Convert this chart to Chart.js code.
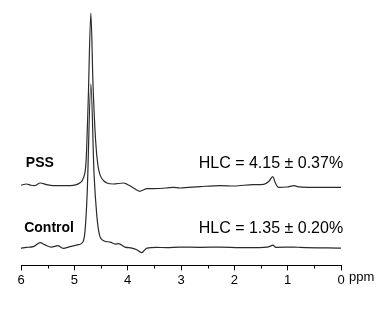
<!DOCTYPE html>
<html>
<head>
<meta charset="utf-8">
<script src="https://cdn.jsdelivr.net/npm/chart.js@4/dist/chart.umd.min.js"></script>
<style>
html,body{margin:0;padding:0;background:#fff;}
#wrap{width:383px;height:310px;position:relative;}
</style>
</head>
<body>
<div id="wrap"><canvas id="c" width="383" height="310"></canvas></div>
<script>
// Chemical shift (ppm) sample positions and intensities (arbitrary units, stacked)
const pssPpm = [6.00,5.90,5.81,5.74,5.64,5.52,5.40,5.08,4.90,4.83,4.78,4.74,4.69,4.65,4.60,4.56,4.52,4.44,4.39,4.27,4.08,4.02,3.89,3.77,3.71,3.64,3.52,3.27,3.14,3.02,2.64,2.26,2.01,1.64,1.45,1.35,1.28,1.23,1.17,1.01,0.88,0.82,0.63,0.00];
const pssVal = [80,81.3,80,79.7,82.3,80.7,79.7,79.7,82.3,87.3,104,164,252,180.7,124,100.7,90.7,84,82.3,81.3,82.3,81.3,77.3,74,75.3,76.7,76.7,77.3,78,77.3,78.7,79.7,79.3,80.7,81,84,88.7,82.3,78,78.3,79.7,78.7,78,78];

const ctlPpm = [6.00,5.90,5.77,5.64,5.56,5.43,5.31,5.21,5.08,4.92,4.84,4.80,4.76,4.69,4.63,4.58,4.53,4.45,4.33,4.23,4.17,4.05,3.92,3.83,3.74,3.64,3.46,3.27,3.02,2.64,2.26,1.89,1.45,1.33,1.28,1.22,0.88,0.76,0.00];
const ctlVal = [17.3,18,18.7,22.7,20.7,18.3,19.7,17,18.7,20.7,23.3,34,70.7,181.3,90.7,50.7,30.7,24.7,23.3,21.3,21.7,18.3,17.3,15.7,12.7,17.3,18,17.7,18.3,18,18.3,17.7,18,19,20.3,18,18.3,18,17.3];

const seriesNames = ["PSS","Control"];
const hlcLabels = ["HLC = 4.15 \u00b1 0.37%","HLC = 1.35 \u00b1 0.20%"];
const labelLevels = [102, 37];           // y positions of the text labels (intensity units)
const majorTicks = [6,5,4,3,2,1,0];
const minorTicks = [5.5,4.5,3.5,2.5,1.5,0.5];
const unitLabel = "ppm";

const toXY = (xs, ys) => xs.map((x,i)=>({x:x, y:ys[i]}));

const overlay = {
  id:'overlay',
  afterDraw(chart){
    const ctx = chart.ctx, xs = chart.scales.x, ys = chart.scales.y;
    ctx.save();
    // minor ticks
    ctx.strokeStyle = '#000'; ctx.lineWidth = 1;
    const base = Math.round(chart.chartArea.bottom) + 0.5;
    minorTicks.forEach(v=>{
      const px = Math.round(xs.getPixelForValue(v)) + 0.5;
      ctx.beginPath(); ctx.moveTo(px, base); ctx.lineTo(px, base+3); ctx.stroke();
    });
    // unit label
    ctx.fillStyle = '#000';
    ctx.font = '13px "Liberation Sans", Arial, sans-serif';
    ctx.textBaseline = 'middle'; ctx.textAlign = 'left';
    ctx.fillText(unitLabel, xs.getPixelForValue(0) + 8, base + 12);
    // series names
    ctx.font = 'bold 14px "Liberation Sans", Arial, sans-serif';
    ctx.fillText(seriesNames[0], xs.getPixelForValue(5.91), ys.getPixelForValue(labelLevels[0]));
    ctx.fillText(seriesNames[1], xs.getPixelForValue(5.94), ys.getPixelForValue(labelLevels[1]));
    // HLC labels
    ctx.font = '16px "Liberation Sans", Arial, sans-serif';
    ctx.textAlign = 'right';
    ctx.fillText(hlcLabels[0], xs.getPixelForValue(-0.04), ys.getPixelForValue(labelLevels[0]));
    ctx.fillText(hlcLabels[1], xs.getPixelForValue(-0.04), ys.getPixelForValue(labelLevels[1]));
    ctx.restore();
  }
};

new Chart(document.getElementById('c'), {
  type:'line',
  data:{
    datasets:[
      {label:seriesNames[0], data:toXY(pssPpm, pssVal), borderColor:'#2a2a2a', borderWidth:1.2, pointRadius:0, cubicInterpolationMode:'monotone', fill:false},
      {label:seriesNames[1], data:toXY(ctlPpm, ctlVal), borderColor:'#2a2a2a', borderWidth:1.2, pointRadius:0, cubicInterpolationMode:'monotone', fill:false}
    ]
  },
  options:{
    responsive:false,
    animation:false,
    events:[],
    layout:{padding:{left:21, right:42, top:0, bottom:20}},
    plugins:{legend:{display:false}, tooltip:{enabled:false}},
    scales:{
      x:{
        type:'linear', reverse:true, min:0, max:6,
        afterBuildTicks(scale){ scale.ticks = majorTicks.map(v=>({value:v})); },
        ticks:{color:'#000', font:{family:'"Liberation Sans", Arial, sans-serif', size:13}, padding:2, maxRotation:0, autoSkip:false,
               callback:(v)=>String(v)},
        grid:{drawOnChartArea:false, drawTicks:true, tickLength:5, color:'#000', lineWidth:1},
        border:{display:true, color:'#000', width:1}
      },
      y:{display:false, min:0, max:265}
    }
  },
  plugins:[overlay]
});
</script>
</body>
</html>
